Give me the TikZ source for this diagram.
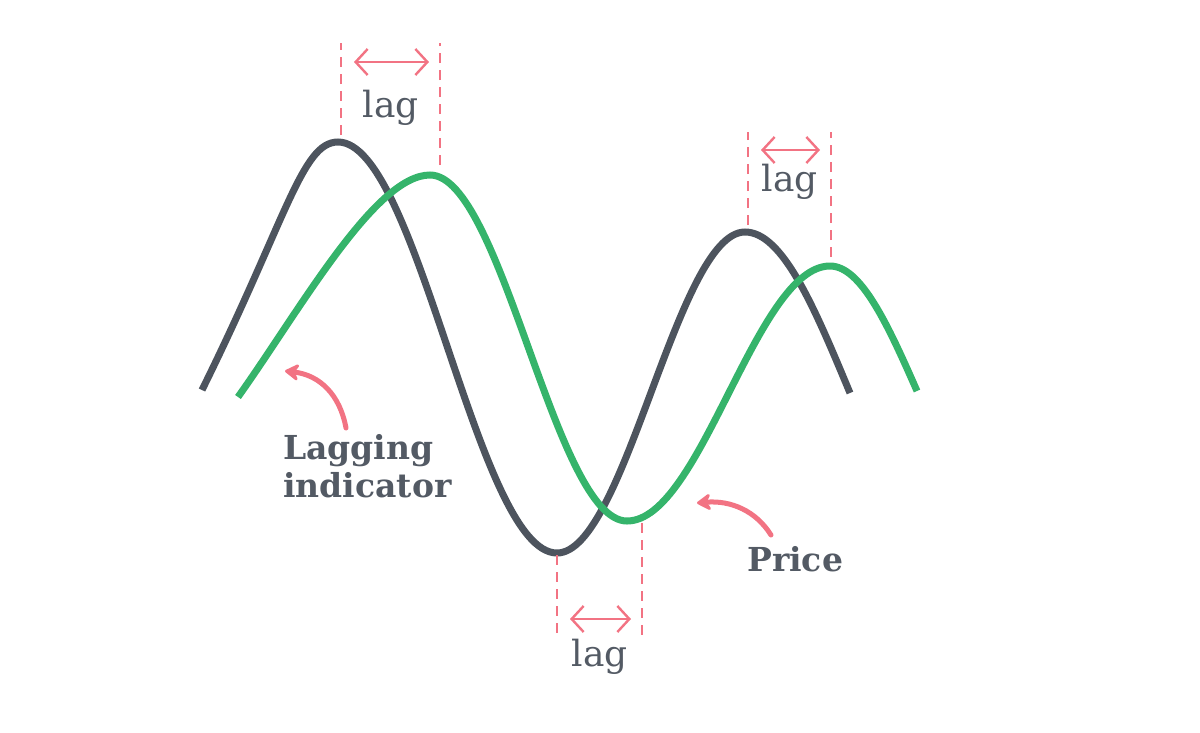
\documentclass[tikz,border=0pt]{standalone}
\usepackage{fontspec}
\setmainfont{DejaVu Serif}
\usetikzlibrary{arrows.meta}
\definecolor{slate}{HTML}{4D545E}
\definecolor{leaf}{HTML}{35B46B}
\definecolor{rose}{HTML}{F27383}
\definecolor{ink}{HTML}{535A64}
\tikzset{
  wave/.style={draw=#1,line width=7pt,line cap=butt},
  wave/.default=slate,
  guide/.style={draw=rose,line width=2.4pt,dash pattern=on 10pt off 7pt},
  span/.style={draw=rose,line width=2.4pt,line cap=round,
    {Straight Barb[length=12pt,width=26pt]}-{Straight Barb[length=12pt,width=26pt]}},
  pointer/.style={draw=rose,line width=5pt,line cap=round,
    -{Stealth[length=17pt,width=21pt,inset=6pt,round]}},
  lagtxt/.style={font=\fontsize{36}{40}\selectfont,text=ink,inner sep=0pt,anchor=base},
  tag/.style={font=\fontsize{33}{38}\selectfont\bfseries,text=ink,inner sep=0pt,align=left},
}

\begin{document}
\begin{tikzpicture}[x=1pt,y=-1pt]
    \useasboundingbox (0,0) rectangle (1200,732);
    % the two waves
    \draw[wave] (202,390) .. controls (287,218) and (302,142) .. (338,142)
      .. controls (418,142) and (477,553) .. (557,553)
      .. controls (625,553) and (677,232) .. (745,232)
      .. controls (783,232) and (815,309) .. (850,393);
    \draw[wave=leaf] (238,397) .. controls (300,310) and (375,175) .. (430,175)
      .. controls (502,175) and (555,521) .. (627,521)
      .. controls (701,521) and (756,266) .. (830,266)
      .. controls (861,266) and (888,325) .. (917,391);
    % lag markers
    \foreach \xa/\ya/\xb/\yb/\ye/\ay/\ly [count=\i] in
      {341/135/440/165/43/62/117, 748/225/831/257/132/150/191, 557/555/642/523/637/619/666}{
      \coordinate (lagA\i) at (\xa,\ya);
      \coordinate (lagAend\i) at (\xa,\ye);
      \coordinate (lagB\i) at (\xb,\yb);
      \coordinate (lagBend\i) at (\xb,\ye);
      \coordinate (spanL\i) at (\xa+13,\ay);
      \coordinate (spanR\i) at (\xb-11,\ay);
      \draw[guide] (lagA\i) -- (lagAend\i);
      \draw[guide] (lagB\i) -- (lagBend\i);
      \draw[span] (spanL\i) -- (spanR\i);
      \node[lagtxt] (lag\i) at ({(\xa+\xb)/2},\ly) {lag};
    }
    % labels
    \node[tag,anchor=north west] (lagging) at (283,434) {Lagging\\indicator};
    \node[tag,anchor=base west] (price) at (747,571) {Price};
    \coordinate (lagtail) at (346,428);
    \coordinate (lagtip) at (285,371);
    \coordinate (pricetail) at (771,535);
    \coordinate (pricetip) at (697,503);
    \draw[pointer] (lagtail) .. controls (340,395) and (320,375) .. (lagtip);
    \draw[pointer] (pricetail) .. controls (756,511) and (731,500) .. (pricetip);
\end{tikzpicture}
\end{document}
